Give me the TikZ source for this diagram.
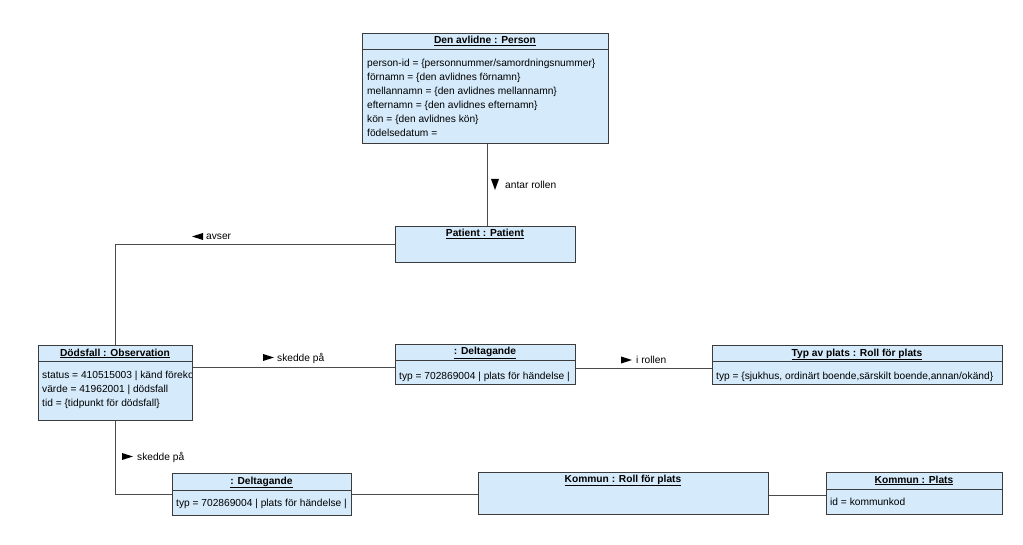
\documentclass[tikz,border=0pt]{standalone}
\usepackage{fontspec}
\setmainfont{Liberation Sans}
\usetikzlibrary{calc}
\definecolor{boxfill}{RGB}{213,234,250}
\definecolor{boxdraw}{RGB}{60,60,60}
\definecolor{linec}{RGB}{75,75,75}
\begin{document}
\begin{tikzpicture}[x=1pt,y=-1pt,
  font=\fontsize{10.2}{14}\selectfont,
  umlbox/.style={draw=boxdraw, fill=boxfill, line width=1pt, inner sep=0pt, anchor=north west},
  ttl/.style={anchor=base, inner sep=0pt, font=\fontsize{10.2}{14}\selectfont\bfseries},
  attr/.style={anchor=base west, inner sep=0pt},
  sep/.style={draw=boxdraw, line width=1pt},
  conn/.style={draw=linec, line width=0.9pt},
  lbl/.style={anchor=base west, inner sep=0pt},
  tri/.style={fill=black}]
\useasboundingbox (0,0) rectangle (1023,545);

% ---------- connectors (drawn first, boxes on top) ----------
\coordinate (personS) at (487,143);
\coordinate (patientN) at (487,226);
\draw[conn] (personS) -- (patientN);

% ---------- Person ----------
\node[umlbox, minimum width=246pt, minimum height=110pt] (person) at (362,33) {};
\node[ttl] (personT) at (485,44) {\underline{Den avlidne : Person}};
\draw[sep] (362,50) -- (608,50);
\foreach \t [count=\i] in {{person-id = \{personnummer/samordningsnummer\}},
  {förnamn = \{den avlidnes förnamn\}},
  {mellannamn = \{den avlidnes mellannamn\}},
  {efternamn = \{den avlidnes efternamn\}},
  {kön = \{den avlidnes kön\}},
  {födelsedatum =}}
  \node[attr] (pa\i) at (367,{52.5+\i*14}) {\t};

% ---------- Patient ----------
\node[umlbox, minimum width=180pt, minimum height=36pt] (patient) at (395,226) {};
\node[ttl] (patientT) at (485,237) {\underline{Patient : Patient}};

% ---------- Dödsfall ----------
\node[umlbox, minimum width=154pt, minimum height=75pt] (dods) at (38,345) {};
\node[ttl] (dodsT) at (115,356) {\underline{Dödsfall : Observation}};
\draw[sep] (38,362) -- (192,362);
\begin{scope}
  \clip (38,345) rectangle (191,420);
  \node[attr] (da1) at (42,378) {status = 410515003 | känd förekomst};
\end{scope}
\node[attr] (da2) at (42,392) {värde = 41962001 | dödsfall};
\node[attr] (da3) at (42,406) {tid = \{tidpunkt för dödsfall\}};

% ---------- Deltagande 1 ----------
\node[umlbox, minimum width=180pt, minimum height=40pt] (delt1) at (395,344) {};
\node[ttl] (delt1T) at (485,355) {\underline{: Deltagande}};
\draw[sep] (395,361) -- (575,361);
\node[attr] (d1a) at (399,379) {typ = 702869004 | plats för händelse |};

% ---------- Typ av plats ----------
\node[umlbox, minimum width=290pt, minimum height=39pt] (typ) at (712,345) {};
\node[ttl] (typT) at (857,356) {\underline{Typ av plats : Roll för plats}};
\draw[sep] (712,362) -- (1002,362);
\node[attr] (ta) at (716,380) {typ = \{sjukhus, ordinärt boende,särskilt boende,annan/okänd\}};

% ---------- Deltagande 2 ----------
\node[umlbox, minimum width=179pt, minimum height=42pt] (delt2) at (172,473) {};
\node[ttl] (delt2T) at (261.5,484) {\underline{: Deltagande}};
\draw[sep] (172,490) -- (351,490);
\node[attr] (d2a) at (176,506) {typ = 702869004 | plats för händelse |};

% ---------- Kommun : Roll för plats ----------
\node[umlbox, minimum width=290pt, minimum height=42pt] (kroll) at (478,472) {};
\node[ttl] (krollT) at (623,482) {\underline{Kommun : Roll för plats}};

% ---------- Kommun : Plats ----------
\node[umlbox, minimum width=176pt, minimum height=42pt] (kplats) at (826,472) {};
\node[ttl] (kplatsT) at (914,483) {\underline{Kommun : Plats}};
\draw[sep] (826,489) -- (1002,489);
\node[attr] (kpa) at (830,505) {id = kommunkod};

% ---------- remaining connectors ----------
\draw[conn] (patient.west) -| (dods.north);
\draw[conn] (dods.east |- 0,367) -- (delt1.west |- 0,367);
\draw[conn] (delt1.east |- 0,368) -- (typ.west |- 0,368);
\draw[conn] (dods.south) |- (delt2.west |- 0,494);
\draw[conn] (delt2.east |- 0,494) -- (kroll.west |- 0,494);
\draw[conn] (kroll.east |- 0,495) -- (kplats.west |- 0,495);

% ---------- labels ----------
\fill[tri] (491,179) -- (499,179) -- (495,190) -- cycle;
\node[lbl] (l1) at (505,189) {antar rollen};
\fill[tri] (203,233) -- (203,240) -- (192,236.5) -- cycle;
\node[lbl] (l2) at (206,240) {avser};
\fill[tri] (263,354) -- (274,357.5) -- (263,361) -- cycle;
\node[lbl] (l3) at (277,361.5) {skedde på};
\fill[tri] (621,356.5) -- (632,360) -- (621,363.5) -- cycle;
\node[lbl] (l4) at (636,363.5) {i rollen};
\fill[tri] (122,453) -- (133,456.5) -- (122,460) -- cycle;
\node[lbl] (l5) at (137,460) {skedde på};
\end{tikzpicture}
\end{document}
